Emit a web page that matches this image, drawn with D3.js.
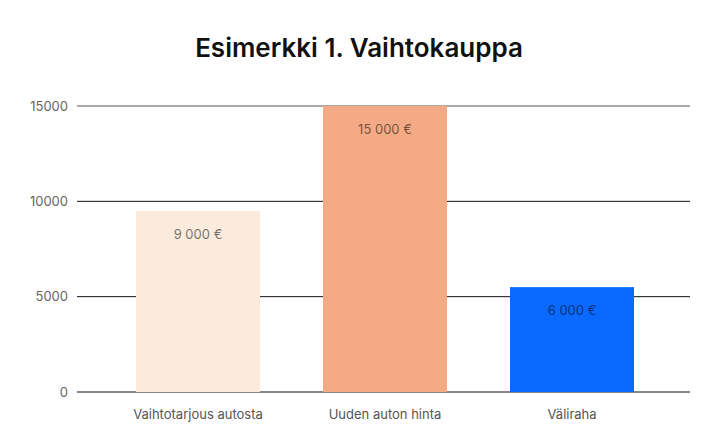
<!DOCTYPE html>
<html>
<head>
<meta charset="utf-8">
<script src="https://cdn.jsdelivr.net/npm/d3@7"></script>
<style>
  body { margin: 0; background: #fff; }
  text { font-family: Inter, Roboto, sans-serif; }
</style>
</head>
<body>
<div id="wrapper"></div>
<script>
// data
const categories = ["Vaihtotarjous autosta", "Uuden auton hinta", "Väliraha"];
const values = [9500, 15000, 5500];
const valueLabels = ["9 000 €", "15 000 €", "6 000 €"];
const barColors = ["#FAEBDC", "#F4AA84", "#0A69FF"];
const yTicks = [0, 5000, 10000, 15000];

function drawChart() {
    const width = 720, height = 445;
    const plot = { left: 77, right: 690, top: 106, bottom: 392 };

    const svg = d3.select("#wrapper").append("svg")
        .attr("width", width)
        .attr("height", height);

    // title
    svg.append("text")
        .attr("x", width / 2 - 1)
        .attr("y", 57)
        .attr("text-anchor", "middle")
        .attr("font-size", 26)
        .attr("font-weight", 600)
        .attr("fill", "#111")
        .text("Esimerkki 1. Vaihtokauppa");

    const yScale = d3.scaleLinear()
        .domain([0, 15000])
        .range([plot.bottom, plot.top]);

    const xScale = d3.scaleBand()
        .domain(categories)
        .range([136, 634])
        .paddingInner(0.337)
        .paddingOuter(0);

    // gridlines
    svg.append("g").selectAll("line")
        .data(yTicks)
        .join("line")
        .attr("x1", plot.left)
        .attr("x2", plot.right)
        .attr("y1", d => yScale(d))
        .attr("y2", d => yScale(d))
        .attr("stroke", d => d === 15000 ? "#555" : "#111")
        .attr("stroke-width", 1);

    // y labels
    svg.append("g").selectAll("text")
        .data(yTicks)
        .join("text")
        .attr("x", 68)
        .attr("y", d => yScale(d))
        .attr("dy", "0.35em")
        .attr("text-anchor", "end")
        .attr("font-size", 13)
        .attr("fill", "#666")
        .text(d => d);

    // bars
    svg.append("g").selectAll("rect")
        .data(values)
        .join("rect")
        .attr("x", (d, i) => xScale(categories[i]))
        .attr("y", d => yScale(d))
        .attr("width", xScale.bandwidth())
        .attr("height", d => yScale(0) - yScale(d))
        .attr("fill", (d, i) => barColors[i]);

    // value labels
    svg.append("g").selectAll("text")
        .data(values)
        .join("text")
        .attr("x", (d, i) => xScale(categories[i]) + xScale.bandwidth() / 2)
        .attr("y", d => yScale(d) + 28)
        .attr("text-anchor", "middle")
        .attr("font-size", 13)
        .attr("fill", "#000")
        .attr("fill-opacity", 0.55)
        .text((d, i) => valueLabels[i]);

    // category labels
    svg.append("g").selectAll("text")
        .data(categories)
        .join("text")
        .attr("x", d => xScale(d) + xScale.bandwidth() / 2)
        .attr("y", 419)
        .attr("text-anchor", "middle")
        .attr("font-size", 13)
        .attr("fill", "#555")
        .text(d => d);
}
drawChart();
</script>
</body>
</html>
